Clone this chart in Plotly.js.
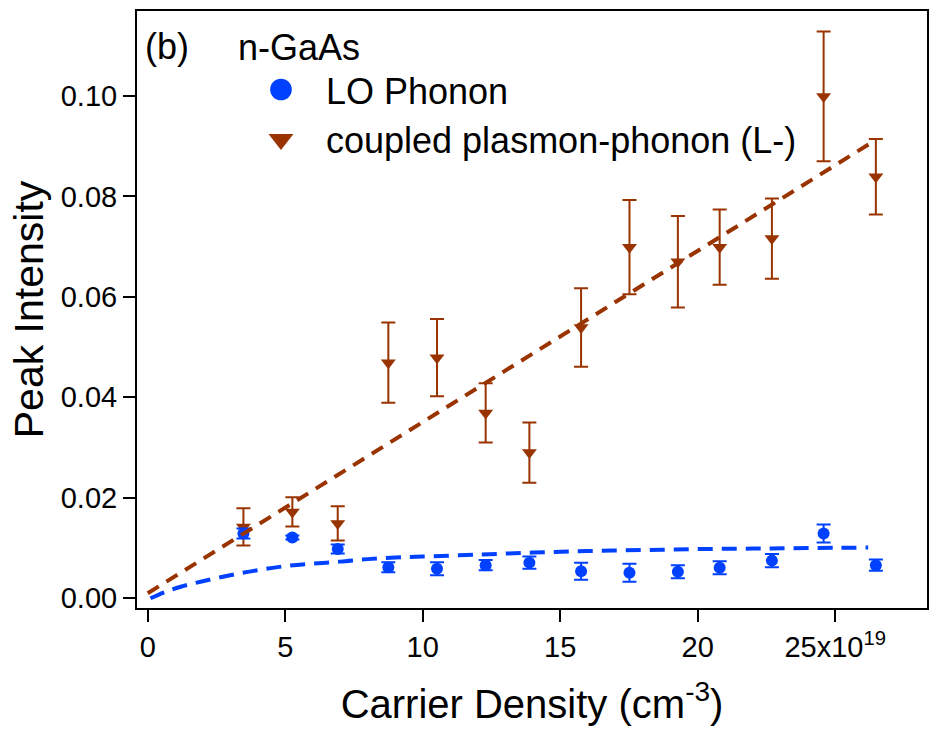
<!DOCTYPE html>
<html>
<head>
<meta charset="utf-8">
<script src="https://cdn.plot.ly/plotly-3.0.1.min.js"></script>
<style>html,body{margin:0;padding:0;background:#fff;}#chart{width:929px;height:730px;}</style>
</head>
<body>
<div id="chart"></div>
<script>
// Carrier density (x10^19 cm^-3)
const carrierDensity = [3.48, 5.26, 6.91, 8.75, 10.52, 12.29, 13.88, 15.76, 17.52, 19.28, 20.80, 22.70, 24.58, 26.48];
// LO phonon peak intensity and error
const loPhonon    = [0.0129, 0.0121, 0.0098, 0.0062, 0.0059, 0.0066, 0.0071, 0.0054, 0.0051, 0.0053, 0.0061, 0.0075, 0.0129, 0.0066];
const loPhononErr = [0.0010, 0.0004, 0.0009, 0.0010, 0.0013, 0.0010, 0.0012, 0.0017, 0.0018, 0.0013, 0.0013, 0.0013, 0.0018, 0.0011];
// Coupled plasmon-phonon (L-) peak intensity and error
const coupled     = [0.0142, 0.0172, 0.0149, 0.0469, 0.0479, 0.0369, 0.0290, 0.0539, 0.0699, 0.0670, 0.0699, 0.0716, 0.0999, 0.0839];
const coupledErr  = [0.0037, 0.0029, 0.0034, 0.0080, 0.0077, 0.0059, 0.0060, 0.0078, 0.0094, 0.0091, 0.0075, 0.0080, 0.0129, 0.0075];
// Fit curves
const loFitX = [0.1, 0.6, 1.2, 2, 3, 4, 5, 6, 7, 8, 9, 10, 12, 14, 16, 18, 20, 22, 24, 26.2];
const loFitY = [0, 0.0012, 0.0023, 0.0034, 0.0046, 0.0056, 0.0064, 0.0069, 0.0073, 0.0078, 0.0081, 0.0083, 0.0087, 0.0091, 0.0094, 0.0096, 0.0098, 0.0099, 0.0100, 0.0101];
const cpFitX = [0, 26.38];
const cpFitY = [0.001, 0.0909];
// Tick labels
const xTickVals = [0, 5, 10, 15, 20, 25];
const xTickText = ['0', '5', '10', '15', '20', '25x10<sup>19</sup>'];
const yTickVals = [0, 0.02, 0.04, 0.06, 0.08, 0.10];
const yTickText = ['0.00', '0.02', '0.04', '0.06', '0.08', '0.10'];

const BLUE = '#0040ff';
const BROWN = '#993300';
const FONT = 'Liberation Sans, Arial, Helvetica, sans-serif';

const traces = [
  {
    x: carrierDensity, y: coupled, type: 'scatter', mode: 'markers',
    name: 'coupled plasmon-phonon (L-)', showlegend: false,
    marker: {symbol: 'triangle-down', size: 13, color: BROWN},
    error_y: {type: 'data', array: coupledErr, visible: true, color: BROWN, thickness: 2, width: 7}
  },
  {
    x: carrierDensity, y: loPhonon, type: 'scatter', mode: 'markers',
    name: 'LO Phonon', showlegend: false,
    marker: {symbol: 'circle', size: 12, color: BLUE},
    error_y: {type: 'data', array: loPhononErr, visible: true, color: BLUE, thickness: 2, width: 7}
  },
  {
    x: loFitX, y: loFitY, type: 'scatter', mode: 'lines', showlegend: false, hoverinfo: 'skip',
    line: {color: BLUE, width: 4, dash: '15px,9px', shape: 'spline'}
  },
  {
    x: cpFitX, y: cpFitY, type: 'scatter', mode: 'lines', showlegend: false, hoverinfo: 'skip',
    line: {color: BROWN, width: 4, dash: '13px,9px'}
  },
  // legend entries
  {
    x: [null], y: [null], type: 'scatter', mode: 'markers', name: 'LO Phonon',
    marker: {symbol: 'circle', size: 16, color: BLUE}
  },
  {
    x: [null], y: [null], type: 'scatter', mode: 'markers', name: 'coupled plasmon-phonon (L-)',
    marker: {symbol: 'triangle-down', size: 16, color: BROWN}
  }
];

const layout = {
  width: 929, height: 730,
  margin: {l: 137, r: 2, t: 11, b: 122},
  paper_bgcolor: '#fff', plot_bgcolor: '#fff',
  font: {family: FONT, color: '#000', size: 29},
  showlegend: true,
  legend: {
    x: 0.1253, y: 0.997, xanchor: 'left', yanchor: 'top',
    bgcolor: 'rgba(0,0,0,0)', borderwidth: 0,
    font: {family: FONT, size: 36, color: '#000'},
    itemwidth: 80, tracegroupgap: 0,
    title: {text: 'n-GaAs', font: {family: FONT, size: 36, color: '#000'}}
  },
  xaxis: {
    range: [-0.39, 28.34], showgrid: false, zeroline: false,
    showline: true, mirror: true, linecolor: '#000', linewidth: 2,
    ticks: 'outside', ticklen: 12, tickwidth: 2, tickcolor: '#000',
    tickvals: xTickVals, ticktext: xTickText,
    tickfont: {family: FONT, size: 29, color: '#000'},
    title: {text: 'Carrier Density (cm<sup>-3</sup>)', font: {family: FONT, size: 40, color: '#000'}, standoff: 28}
  },
  yaxis: {
    range: [-0.00193, 0.1169], showgrid: false, zeroline: false,
    showline: true, mirror: true, linecolor: '#000', linewidth: 2,
    ticks: 'outside', ticklen: 12, tickwidth: 2, tickcolor: '#000',
    tickvals: yTickVals, ticktext: yTickText,
    tickfont: {family: FONT, size: 29, color: '#000'},
    title: {text: 'Peak Intensity', font: {family: FONT, size: 41, color: '#000'}, standoff: 4}
  },
  annotations: [
    {text: '(b)', xref: 'paper', yref: 'paper', x: 0.0076, y: 0.94, xanchor: 'left', yanchor: 'middle',
     showarrow: false, font: {family: FONT, size: 36, color: '#000'}}
  ]
};

Plotly.newPlot('chart', traces, layout, {displayModeBar: false, staticPlot: true}).then(function (gd) {
  // enlarge legend symbols to match the reference's larger legend markers
  gd.querySelectorAll('.legend .legendpoints path.scatterpts').forEach(function (el) {
    const t = el.getAttribute('transform') || '';
    el.setAttribute('transform', t + ' scale(1.35)');
  });
});
</script>
</body>
</html>
